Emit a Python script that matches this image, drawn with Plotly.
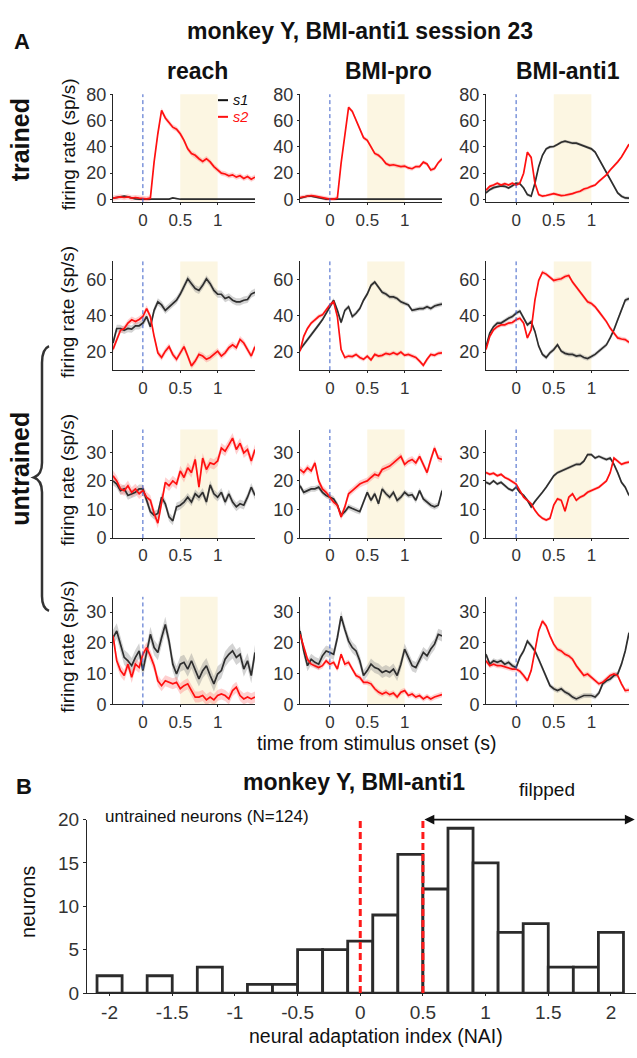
import plotly.graph_objects as go

W, H = 637, 1058

# ---------------- data ----------------
t = [-0.40, -0.35, -0.30, -0.25, -0.20, -0.15, -0.10, -0.05, 0.00, 0.05,
     0.10, 0.15, 0.20, 0.25, 0.30, 0.35, 0.40, 0.45, 0.50, 0.55,
     0.60, 0.65, 0.70, 0.75, 0.80, 0.85, 0.90, 0.95, 1.00, 1.05,
     1.10, 1.15, 1.20, 1.25, 1.30, 1.35, 1.40, 1.45, 1.50]

conditions = ["reach", "BMI-pro", "BMI-anti1"]

# row 1 (trained)
r1_reach_s1 = [1, 1.5, 1.5, 2.5, 2, 1, 0.5, 0.3, 0.2, 0.2, 0.2, 0.2, 0.2, 0.2, 0.2, 0.3, 1.2, 0.5, 0.2, 0.2,
               0.2, 0.2, 0.2, 0.2, 0.2, 0.2, 0.2, 0.2, 0.2, 0.2, 0.2, 0.2, 0.2, 0.2, 0.2, 0.2, 0.2, 0.2, 0.2]
r1_reach_s2 = [1, 1.5, 2, 1.5, 2, 1, 1.5, 1, 0.5, 0.5, 1, 28.6, 50, 67.7, 62, 58.5, 55, 53.5, 50, 45,
               38.5, 35, 33.6, 31, 29, 31, 28.6, 25, 22.4, 20, 19.4, 18, 18.7, 17, 18, 16, 17.4, 15.4, 17]
r1_pro_s1 = [1, 2, 2.5, 2.5, 2, 1, 0.5, 0.2, 0.2, 0.2, 0.2, 0.2, 0.2, 0.2, 0.2, 0.2, 0.2, 0.2, 0.2, 0.2,
             0.2, 0.2, 0.2, 0.2, 0.2, 0.2, 0.2, 0.2, 0.2, 0.2, 0.2, 0.2, 0.2, 0.2, 0.2, 0.2, 0.2, 0.2, 0.2]
r1_pro_s2 = [1.5, 2, 2.5, 3, 2.5, 2, 1.5, 0.5, 0.3, 0.3, 1, 27.6, 51, 70, 67, 60, 53.5, 47, 45, 40,
             35, 33.6, 31, 27.4, 26, 26.4, 25.4, 25, 25.4, 24, 23.4, 25, 25, 28.4, 27, 22.4, 23.6, 28, 31]
r1_anti_s1 = [5, 7.5, 9, 10, 10.4, 10, 8.7, 10.4, 12.4, 12, 8.7, 3.7, 2.5, 12.4, 25, 33.6, 38.5, 40, 40.3, 41.8,
              43.5, 44.3, 43.5, 42.8, 42.8, 41.8, 41, 40, 38.5, 36, 31, 26, 21, 16, 10, 5, 2.5, 1.2, 1]
r1_anti_s2 = [7, 10, 11, 12.4, 11, 12, 11, 12.4, 11, 12.4, 20, 36, 32, 12.4, 3.7, 2.5, 3, 3.7, 4.5, 3.7,
              3, 3.2, 3.7, 4.5, 5.5, 6.2, 8, 8.7, 10, 11, 13.7, 16.2, 18.7, 22.4, 25.4, 28.6, 32.3, 37.3, 42]

# row 2 (untrained)
r2_reach_s1 = [25, 33, 33, 32, 33, 32.7, 34.5, 34.5, 36, 39.6, 34, 43, 47.7, 46, 43, 45, 46.8, 48.6, 52, 56,
               60.4, 57.7, 55, 54, 56.8, 60.4, 57.7, 54, 52, 51.9, 49.5, 50.4, 48.6, 47.7, 47.7, 48.6, 49, 52, 53]
r2_reach_s2 = [21.5, 27, 32, 33, 36, 37.8, 36.8, 38, 39.6, 44, 39.6, 28.7, 19.6, 17, 20.5, 23, 18.7, 16, 19.6, 23,
               17.8, 12.4, 15, 18.7, 17.8, 16, 17, 18.7, 20.5, 17.8, 19.6, 22.4, 24, 22.4, 27, 25, 21.4, 17.8, 23]
r2_pro_s1 = [21.4, 24, 27, 29.6, 32.3, 35, 37.8, 41.4, 45, 48.6, 43, 36.3, 43, 45, 39.6, 41.4, 44, 48.6, 52, 56.8,
             58.6, 56, 53, 52, 50.4, 50.4, 49.5, 47.7, 46.8, 46, 43, 43.5, 44, 44, 45, 44, 45.4, 46, 46.5]
r2_pro_s2 = [20.5, 28.7, 33, 36, 37.8, 39.6, 40.5, 43, 46, 47.7, 39.6, 21.4, 17, 17.8, 17.5, 18.7, 17, 16, 17.8, 15.7,
             18.7, 17.8, 18.2, 19.3, 18.7, 19.6, 18.7, 20, 18.2, 18.7, 17.8, 17, 15, 12.7, 16, 18.7, 18.2, 19.3, 19.6]
r2_anti_s1 = [23, 30.5, 34, 36, 36, 37.4, 38.7, 39.6, 41.4, 42.6, 38.7, 35, 36.8, 31.4, 23.3, 18.7, 17, 19.6, 21.4, 24,
              20.5, 19.3, 18.7, 18.7, 17.8, 18.2, 17, 16.4, 17.5, 18.7, 20.5, 22.4, 24, 27.8, 32.3, 37.8, 43, 48.6, 49.5]
r2_anti_s2 = [21.4, 28.7, 32.3, 34, 35, 35, 36, 36.3, 37.8, 38.7, 36, 27.8, 32.3, 48.6, 59.5, 64, 63, 61.3, 59.5, 60,
              60.4, 61.7, 62.2, 58.6, 56, 53, 50.4, 47.7, 46.8, 45, 42.3, 39.6, 36.8, 33.2, 30.5, 27.8, 27.2, 26.9, 25.4]

# row 3 (untrained)
r3_reach_s1 = [20, 18.9, 16.6, 17.2, 14.9, 15.5, 16, 17.2, 17.2, 13.2, 9.2, 8, 8.6, 14.3, 12, 7.4, 6, 10.9, 11.5, 12.6,
               14.3, 12.6, 15.5, 14.3, 16, 12.6, 18.6, 15.5, 14.3, 16, 12.6, 15.5, 12.6, 10.9, 12, 11.5, 14.3, 17.8, 14.9]
r3_reach_s2 = [21.8, 20, 17.2, 16.6, 18.3, 16, 17.2, 15.5, 16.6, 14.3, 13.2, 8.6, 5.2, 12.6, 19.5, 18.3, 20, 18.9, 23.5, 21.2,
               24.6, 22.9, 27.5, 17.8, 28, 24, 26.3, 25.8, 27, 31.5, 30.4, 32.6, 35, 31, 33.2, 29.8, 31, 27, 31]
r3_pro_s1 = [18.3, 16, 16.6, 17.2, 17.2, 17.8, 16, 14.9, 14.3, 13.7, 11.5, 8, 9.2, 10.9, 10.3, 9.7, 9.2, 12.6, 16, 13.2,
             15.5, 12, 17.2, 15.5, 14.3, 16, 13.2, 14.3, 16, 14.9, 15.2, 13.2, 16.6, 13.7, 12.6, 11.5, 10.9, 11.5, 16.6]
r3_pro_s2 = [24, 22.9, 24.6, 23.5, 26.3, 20, 17.2, 16, 14.3, 12.6, 11.5, 7.4, 10.9, 15.5, 16.6, 17.8, 18.9, 19.5, 20, 21.2,
             22.3, 21.8, 24, 24.6, 25.2, 26.3, 27.5, 28.6, 25.8, 26.9, 27.5, 26.3, 28.6, 25.8, 22.9, 27.5, 31.5, 28, 27.5]
r3_anti_s1 = [19.5, 18.9, 20, 18.9, 19.5, 18.3, 17.2, 16.6, 17.8, 16, 14.9, 13.2, 10.9, 12.8, 14.3, 16, 17.8, 20, 21.8, 22.9,
              23.5, 24, 24.6, 25.2, 25.8, 25.8, 26.9, 29.2, 29.2, 28, 28.6, 28, 27.5, 28, 25.8, 22.9, 19.5, 17.8, 14.9]
r3_anti_s2 = [22.9, 22.3, 22.7, 21.8, 22.3, 21.2, 20.6, 19.7, 18.9, 16.6, 14.3, 13.2, 12, 9.7, 8, 6.9, 6.3, 6.9, 11.5, 13.7,
              13.2, 9.4, 14.3, 15.5, 13.2, 14.3, 14.9, 16, 16.6, 17.2, 17.8, 18.9, 20, 22.9, 28, 26.9, 25.8, 26.3, 26.6]

# row 4 (untrained)
r4_reach_s1 = [21.7, 23.9, 19.6, 15.3, 14.2, 12.6, 15.3, 17.4, 11, 16.9, 22.8, 18.5, 16.9, 21.7, 26, 20.6, 13.1, 9.9, 13.1, 13.7,
               11.5, 14.2, 11, 8.3, 11, 12.6, 9.4, 6.7, 9.9, 11, 14.7, 16.3, 17.4, 15.3, 16.3, 11.5, 14.2, 9.4, 16.9]
r4_reach_s2 = [22.3, 14.2, 11, 9.4, 13.1, 8.8, 13.1, 12, 16.3, 18.5, 15.8, 12.6, 7.7, 6.1, 7.7, 7.2, 6.7, 7.2, 5.1, 6.1,
               6.7, 4.5, 2.4, 2.4, 2.9, 1.5, 2.4, 1.5, 2.9, 3.4, 2.9, 1.8, 4.5, 5.6, 2.9, 1.8, 2.4, 1.8, 2.4]
r4_pro_s1 = [23.9, 17.4, 12.6, 14.7, 13.7, 13.1, 15.8, 17.4, 16.9, 16.3, 21.7, 28.7, 24.4, 20.6, 18.5, 17.4, 14.2, 9.4, 11, 13.1,
             12, 11.5, 10.4, 11, 10.4, 11.5, 9.4, 13.1, 18, 15.3, 12.6, 12, 14.7, 16.9, 15.8, 18, 19.6, 22.8, 22.3]
r4_pro_s2 = [22.8, 18.5, 14.7, 13.1, 12.6, 12, 12.6, 14.2, 13.1, 13.7, 11.5, 16.3, 13.1, 13.7, 11.5, 9.4, 8.8, 7.2, 7.2, 6.7,
             5.1, 4, 3.4, 4, 3.2, 3.7, 2.4, 4, 4.5, 2.9, 3.4, 2.4, 2.9, 1.8, 2.6, 1.8, 2.4, 2.9, 3.2]
r4_anti_s1 = [16.3, 13.1, 14.2, 13.7, 14.2, 13.1, 13.7, 12.6, 12, 15.3, 17.4, 20.6, 19.1, 17.4, 14.7, 12, 8.8, 6.1, 5.1, 4.5,
              5.1, 4, 3.4, 2.4, 1.8, 2.4, 2.9, 2.9, 2.9, 2.4, 3.7, 6.7, 7.7, 8.3, 9.4, 9.9, 13.1, 17.4, 23.3]
r4_anti_s2 = [14.2, 12.6, 13.1, 12.6, 12.6, 12.3, 11.8, 11.5, 11.5, 10.8, 9.4, 7.7, 11, 17.4, 23.9, 27.1, 25.5, 22.3, 19.6, 17.9,
              17.4, 16.3, 15.8, 14.7, 12.6, 11, 9.4, 9.9, 8.8, 7.7, 6.7, 7.2, 8.3, 9.4, 9.9, 9.4, 6.7, 4.5, 4.7]

# s.e.m. half-widths of the shaded bands (per row, per condition)
sem_s1 = [[0.5, 0.5, 1.2], [2.0, 1.2, 1.2], [1.5, 1.0, 0.6], [2.5, 1.8, 0.8]]
sem_s2 = [[2.0, 1.5, 1.2], [1.8, 1.2, 1.2], [1.8, 1.2, 0.6], [1.8, 0.9, 0.8]]

row_s1 = [[r1_reach_s1, r1_pro_s1, r1_anti_s1], [r2_reach_s1, r2_pro_s1, r2_anti_s1],
          [r3_reach_s1, r3_pro_s1, r3_anti_s1], [r4_reach_s1, r4_pro_s1, r4_anti_s1]]
row_s2 = [[r1_reach_s2, r1_pro_s2, r1_anti_s2], [r2_reach_s2, r2_pro_s2, r2_anti_s2],
          [r3_reach_s2, r3_pro_s2, r3_anti_s2], [r4_reach_s2, r4_pro_s2, r4_anti_s2]]

row_yrange = [[-2, 80], [10, 70], [0, 38], [0, 35]]
row_yticks = [[0, 20, 40, 60, 80], [20, 40, 60], [0, 10, 20, 30], [0, 10, 20, 30]]
x_ticks = [0, 0.5, 1]
x_ticklabels = ["0", "0.5", "1"]
window = [0.5, 1.0]

# histogram (panel B)
nai_centers = [-2.0, -1.8, -1.6, -1.4, -1.2, -1.0, -0.8, -0.6, -0.4, -0.2, 0.0,
               0.2, 0.4, 0.6, 0.8, 1.0, 1.2, 1.4, 1.6, 1.8, 2.0]
nai_counts = [2, 0, 2, 0, 3, 0, 1, 1, 5, 5, 6, 9, 16, 12, 19, 15, 7, 8, 3, 3, 7]
nai_thresholds = [0.0, 0.5]
hist_xticks = [-2, -1.5, -1, -0.5, 0, 0.5, 1, 1.5, 2]
hist_xticklabels = ["-2", "-1.5", "-1", "-0.5", "0", "0.5", "1", "1.5", "2"]

# ---------------- styling / layout ----------------
FONT = "Liberation Sans, Arial, sans-serif"
AX = "#262626"
TXT = "#333333"
C1 = "#2e2e2e"
C2 = "#ff1010"
B1 = "rgba(140,140,140,0.38)"
B2 = "rgba(255,120,120,0.35)"
CREAM = "#fcf6e2"
BLUE = "#3c5fc8"
TICK = 17

col_px = [(113, 255), (300, 442), (486, 629)]
row_px = [(86, 196), (256.5, 367.5), (428, 538.7), (598.7, 708.5)]


def px(x):
    return x / W


def py(y):
    return 1 - y / H


fig = go.Figure()
layout = dict(width=W, height=H, margin=dict(l=0, r=0, t=0, b=0),
              plot_bgcolor="white", paper_bgcolor="white", showlegend=False,
              font=dict(family=FONT, color=TXT))
shapes = []
annotations = []

for r in range(4):
    for c in range(3):
        k = r * 3 + c + 1
        sfx = "" if k == 1 else str(k)
        xa, ya = "x" + sfx, "y" + sfx
        layout["xaxis" + sfx] = dict(
            domain=[px(col_px[c][0]), px(col_px[c][1])], range=[-0.4, 1.5],
            tickvals=x_ticks, ticktext=x_ticklabels, anchor=ya,
            showline=True, linecolor=AX, linewidth=1, ticks="outside", ticklen=2,
            tickcolor=AX, showgrid=False, zeroline=False,
            tickfont=dict(size=TICK, color=TXT, family=FONT))
        layout["yaxis" + sfx] = dict(
            domain=[py(row_px[r][1]), py(row_px[r][0])], range=row_yrange[r],
            tickvals=row_yticks[r], anchor=xa,
            showline=True, linecolor=AX, linewidth=1, ticks="outside", ticklen=2,
            tickcolor=AX, showgrid=False, zeroline=False,
            tickfont=dict(size=TICK + 1, color=TXT, family=FONT))
        shapes.append(dict(type="rect", xref=xa, yref=ya + " domain", x0=window[0], x1=window[1],
                           y0=0, y1=1, fillcolor=CREAM, line=dict(width=0), layer="below"))
        shapes.append(dict(type="line", xref=xa, yref=ya + " domain", x0=0, x1=0, y0=0, y1=1,
                           line=dict(color=BLUE, width=1, dash="4px,3px")))
        s1 = row_s1[r][c]
        s2 = row_s2[r][c]
        for vals, sem, band in ((s1, sem_s1[r][c], B1), (s2, sem_s2[r][c], B2)):
            up = [v + sem for v in vals]
            lo = [v - sem for v in vals]
            fig.add_trace(go.Scatter(x=t + t[::-1], y=up + lo[::-1], fill="toself", fillcolor=band,
                                     line=dict(width=0), mode="lines", hoverinfo="skip",
                                     xaxis=xa, yaxis=ya))
        fig.add_trace(go.Scatter(x=t, y=s1, mode="lines", line=dict(color=C1, width=1.7),
                                 xaxis=xa, yaxis=ya))
        fig.add_trace(go.Scatter(x=t, y=s2, mode="lines", line=dict(color=C2, width=1.7),
                                 xaxis=xa, yaxis=ya))
    # y-axis title for each row
    annotations.append(dict(text="firing rate (sp/s)", xref="paper", yref="paper",
                            x=px(68), y=py((row_px[r][0] + row_px[r][1]) / 2 - 4), textangle=-90,
                            showarrow=False, font=dict(size=19, color="#111", family=FONT),
                            xanchor="center", yanchor="middle"))

# histogram axes
layout["xaxis13"] = dict(domain=[px(87), px(636)], range=[-2.18, 2.2], anchor="y13",
                         tickvals=hist_xticks, ticktext=hist_xticklabels,
                         showline=True, linecolor=AX, linewidth=1.2, ticks="outside", ticklen=2,
                         tickcolor=AX, showgrid=False, zeroline=False,
                         tickfont=dict(size=19, color=TXT, family=FONT))
layout["yaxis13"] = dict(domain=[py(1003), py(826)], range=[0, 20], anchor="x13",
                         tickvals=[0, 5, 10, 15, 20],
                         showline=True, linecolor=AX, linewidth=1.2, ticks="outside", ticklen=3,
                         tickcolor=AX, showgrid=False, zeroline=False,
                         tickfont=dict(size=19, color=TXT, family=FONT))
fig.add_trace(go.Bar(x=nai_centers, y=nai_counts, width=0.2, marker=dict(color="white",
                     line=dict(color="#2b2b2b", width=2.8)), xaxis="x13", yaxis="y13"))
for th in nai_thresholds:
    shapes.append(dict(type="line", xref="x13", yref="y13", x0=th, x1=th, y0=0, y1=20,
                       line=dict(color="#ff1a1a", width=3, dash="7px,4px")))

# flipped arrow (double headed)
annotations.append(dict(x=2.19, y=py(826), ax=0.5, ay=0, xref="x13", yref="paper",
                        axref="x13", ayref="pixel", text="", showarrow=True, arrowhead=2,
                        arrowside="end+start", arrowsize=1.1, arrowwidth=1.8, arrowcolor="#111",
                        standoff=0, startstandoff=0))
annotations.append(dict(x=1.49, y=py(808), xref="x13", yref="paper", text="filpped", showarrow=False,
                        font=dict(size=19, color="#111", family=FONT)))
annotations.append(dict(x=-2.05, y=py(835), xref="x13", yref="paper", text="untrained neurons (N=124)",
                        showarrow=False, xanchor="left", font=dict(size=17, color="#111", family=FONT)))


# titles & labels
def ann(text, x, y, size, angle=0, bold=False, anchor="center", color="#111", italic=False):
    if bold:
        text = "<b>" + text + "</b>"
    if italic:
        text = "<i>" + text + "</i>"
    annotations.append(dict(text=text, xref="paper", yref="paper", x=px(x), y=py(y), textangle=angle,
                            showarrow=False, xanchor=anchor, yanchor="middle",
                            font=dict(size=size, color=color, family=FONT)))


ann("A", 22, 32, 22, bold=True)
ann("monkey Y, BMI-anti1 session 23", 360, 21, 23, bold=True)
ann("reach", 197, 62, 23, bold=True)
ann("BMI-pro", 388, 62, 23, bold=True)
ann("BMI-anti1", 568, 62, 23, bold=True)
ann("trained", 20, 133, 25, angle=-90, bold=True)
ann("untrained", 20, 468, 25, angle=-90, bold=True)
ann("time from stimulus onset (s)", 376, 748, 19.5)
ann("B", 24, 792, 22, bold=True)
ann("monkey Y, BMI-anti1", 354, 788, 23, bold=True)
ann("neurons", 28, 910, 20, angle=-90)
ann("neural adaptation index (NAI)", 376, 1047, 19.5)

# legend
ann("s1", 231, 92, 14.5, anchor="left", italic=True, color="#111")
ann("s2", 231, 109, 14.5, anchor="left", italic=True, color=C2)
shapes.append(dict(type="line", xref="paper", yref="paper", x0=px(218), x1=px(228), y0=py(92), y1=py(92),
                   line=dict(color="#111", width=2)))
shapes.append(dict(type="line", xref="paper", yref="paper", x0=px(218), x1=px(228), y0=py(109), y1=py(109),
                   line=dict(color=C2, width=2)))

# curly brace for "untrained"
bp = [(49, 343), (42, 346), (42, 360), (42, 462), (42, 474), (34, 477), (42, 480), (42, 492),
      (42, 598), (42, 610), (49, 613)]
path = "M {} {} Q {} {} {} {} L {} {} Q {} {} {} {} Q {} {} {} {} L {} {} Q {} {} {} {}".format(
    *[v for p in bp for v in (px(p[0]), py(p[1]))])
shapes.append(dict(type="path", xref="paper", yref="paper", path=path,
                   line=dict(color="#333", width=2.5)))

layout["shapes"] = shapes
layout["annotations"] = annotations
fig.update_layout(**layout)
fig.write_html("out.html")
